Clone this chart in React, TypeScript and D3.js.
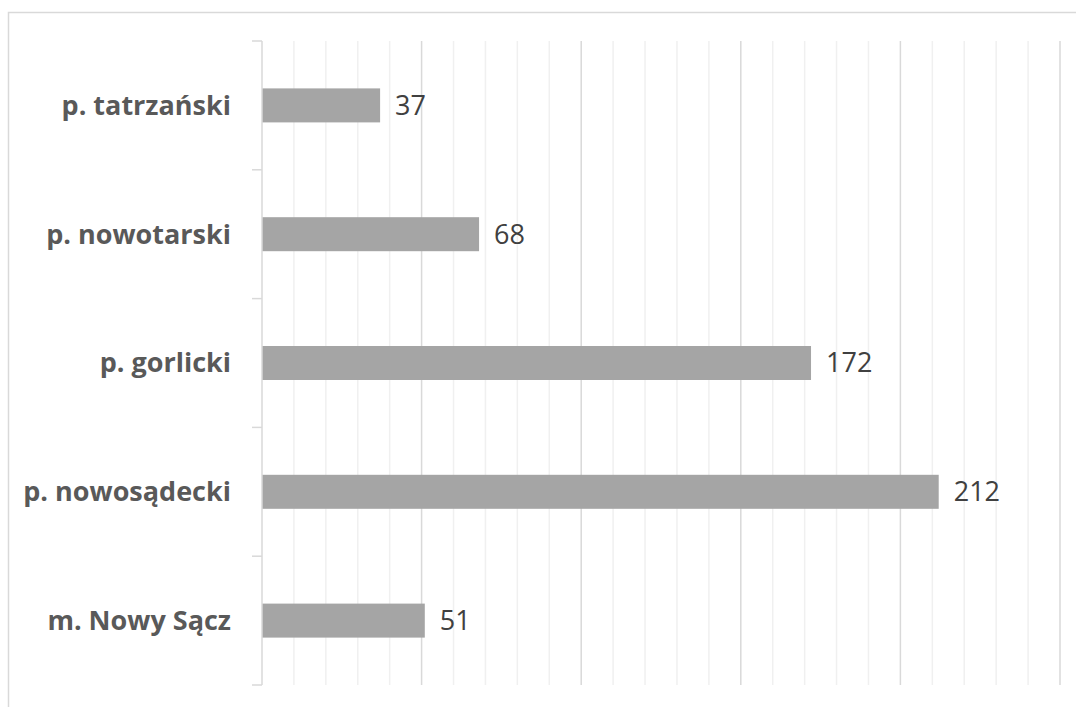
import React from "react";
import * as d3 from "d3";

const categories = ["p. tatrzański", "p. nowotarski", "p. gorlicki", "p. nowosądecki", "m. Nowy Sącz"];
const values = [37, 68, 172, 212, 51];
const majorTicks = [0, 50, 100, 150, 200, 250];
const minorTicks = d3.range(0, 251, 10);

export default function App() {
  const W = 1076, H = 707;
  const left = 262, right = 1060, top = 41, bottom = 685;
  const x = d3.scaleLinear().domain([0, 250]).range([left, right]);
  const y = d3.scaleBand<string>().domain(categories).range([top, bottom]).paddingInner(0.736).paddingOuter(0.368);
  const yb = d3.scaleBand<string>().domain(categories).range([top, bottom]);
  const font = "'Open Sans', 'Noto Sans', sans-serif";
  return (
    <svg width={W} height={H} style={{ position: "absolute", left: 0, top: 0 }}>
      <rect x={0} y={0} width={W} height={H} fill="#fff" />
      <rect x={8.5} y={12.5} width={1200} height={1000} fill="none" stroke="#d9d9d9" strokeWidth={1.5} />
      {minorTicks.filter(t => t % 50 !== 0).map(t => (
        <line key={"m" + t} x1={x(t)} x2={x(t)} y1={top} y2={bottom} stroke="#f0f0f0" strokeWidth={1.5} />
      ))}
      {majorTicks.filter(t => t > 0).map(t => (
        <line key={"M" + t} x1={x(t)} x2={x(t)} y1={top} y2={bottom} stroke="#d9d9d9" strokeWidth={1.5} />
      ))}
      {values.map((v, i) => (
        <rect key={i} x={x(0)} y={y(categories[i])!} width={x(v) - x(0)} height={y.bandwidth()} fill="#a5a5a5" />
      ))}
      <line x1={left} x2={left} y1={top} y2={bottom} stroke="#d9d9d9" strokeWidth={1.5} />
      {[...categories.map(c => yb(c)!), bottom].map((t, i) => (
        <line key={"t" + i} x1={left - 10} x2={left} y1={t} y2={t} stroke="#d9d9d9" strokeWidth={1.5} />
      ))}
      {categories.map((c, i) => (
        <text key={"c" + i} x={231} y={yb(c)! + yb.bandwidth() / 2} dy="0.35em" textAnchor="end"
          fontFamily={font} fontWeight="bold" fontSize={27} fill="#595959">{c}</text>
      ))}
      {values.map((v, i) => (
        <text key={"v" + i} x={x(v) + 15} y={yb(categories[i])! + yb.bandwidth() / 2} dy="0.35em"
          fontFamily={font} fontSize={27} fill="#404040">{v}</text>
      ))}
    </svg>
  );
}
